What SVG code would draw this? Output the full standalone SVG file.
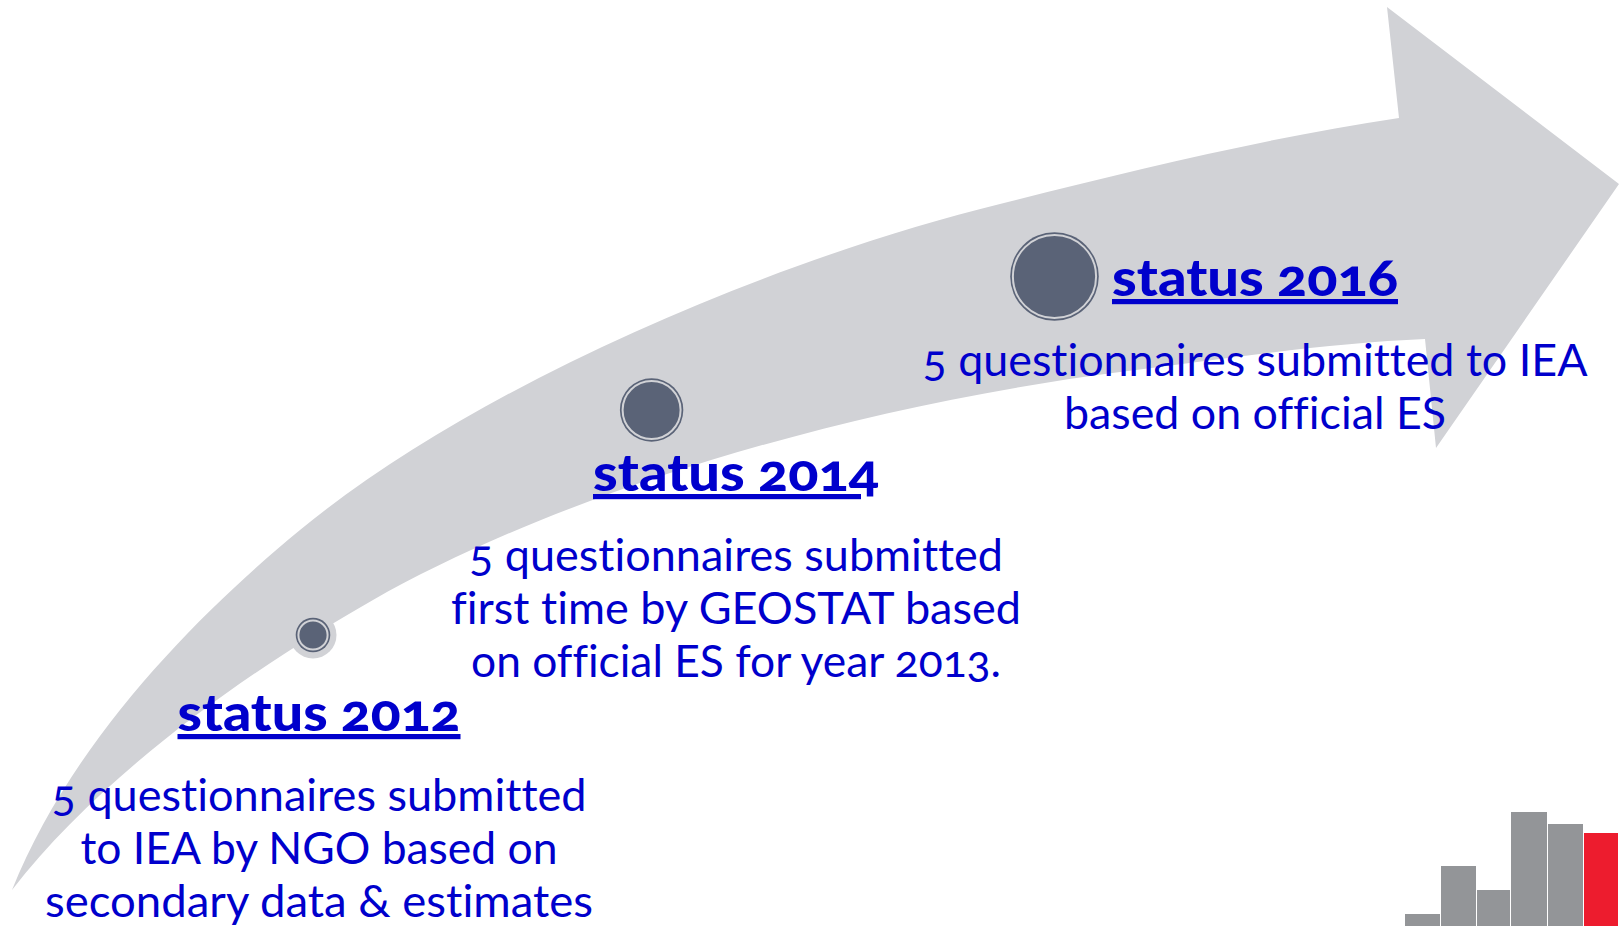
<svg xmlns="http://www.w3.org/2000/svg" width="1619" height="926" viewBox="0 0 1619 926">
<style>
text{font-family:"Lato","Open Sans","Liberation Sans",sans-serif;fill:#0000CC;text-anchor:middle;font-variant-numeric:oldstyle-nums;font-variant-ligatures:none;font-feature-settings:"onum","liga" 0}
.h{font-size:52px;font-weight:900;text-decoration:underline;text-decoration-skip-ink:none}
.b{font-size:44px}
.o{fill:#5A6377}
.r{fill:#5A6377;stroke:#D1D2D6;stroke-width:2}
.g{fill:#939598}
</style>
<rect width="1619" height="926" fill="#FFFFFF"/>
<path id="arrow" fill="#D1D2D6" d="M12 890C72 740 200 612 300 530C480 382 780 258 1000 204C1130 171 1270 137 1399 118L1387 7L1619 184L1436 448L1425 339C1330 343 1220 359 1120 372C820 411 543 503 373 600C253 668 102 773 12 890Z"/>
<g id="status-2012">
<circle cx="313" cy="635" r="23.5" fill="#D1D2D6"/>
<circle class="o" cx="313" cy="635" r="17.3"/><circle class="r" cx="313" cy="635" r="14.6"/>
<text class="h" x="319" y="731" textLength="283" lengthAdjust="spacingAndGlyphs">status 2012</text>
<text class="b" x="319" y="811" textLength="535" lengthAdjust="spacingAndGlyphs">5 questionnaires submitted</text>
<text class="b" x="319" y="864" textLength="477" lengthAdjust="spacingAndGlyphs">to IEA by NGO based on</text>
<text class="b" x="319" y="917" textLength="548" lengthAdjust="spacingAndGlyphs">secondary data &amp; estimates</text>
</g>
<g id="status-2014">
<circle class="o" cx="651.6" cy="410" r="31.7"/><circle class="r" cx="651.6" cy="410" r="29"/>
<text class="h" x="736" y="491" textLength="286" lengthAdjust="spacingAndGlyphs">status 2014</text>
<text class="b" x="736" y="571" textLength="534" lengthAdjust="spacingAndGlyphs">5 questionnaires submitted</text>
<text class="b" x="736" y="624" textLength="570" lengthAdjust="spacingAndGlyphs">first time by GEOSTAT based</text>
<text class="b" x="736" y="677" textLength="530" lengthAdjust="spacingAndGlyphs">on official ES for year 2013.</text>
</g>
<g id="status-2016">
<circle class="o" cx="1054.5" cy="276.5" r="44.3"/><circle class="r" cx="1054.5" cy="276.5" r="41.6"/>
<text class="h" x="1255" y="296" textLength="286" lengthAdjust="spacingAndGlyphs">status 2016</text>
<text class="b" x="1255" y="376" textLength="665" lengthAdjust="spacingAndGlyphs">5 questionnaires submitted to IEA</text>
<text class="b" x="1255" y="429" textLength="382" lengthAdjust="spacingAndGlyphs">based on official ES</text>
</g>
<g id="logo">
<rect class="g" x="1405" y="914" width="35" height="12"/>
<rect class="g" x="1441" y="866" width="35" height="60"/>
<rect class="g" x="1477" y="890" width="33" height="36"/>
<rect class="g" x="1511" y="812" width="36" height="114"/>
<rect class="g" x="1548" y="824" width="35" height="102"/>
<rect x="1584" y="833" width="34" height="93" fill="#ED1C2E"/>
</g>
</svg>
